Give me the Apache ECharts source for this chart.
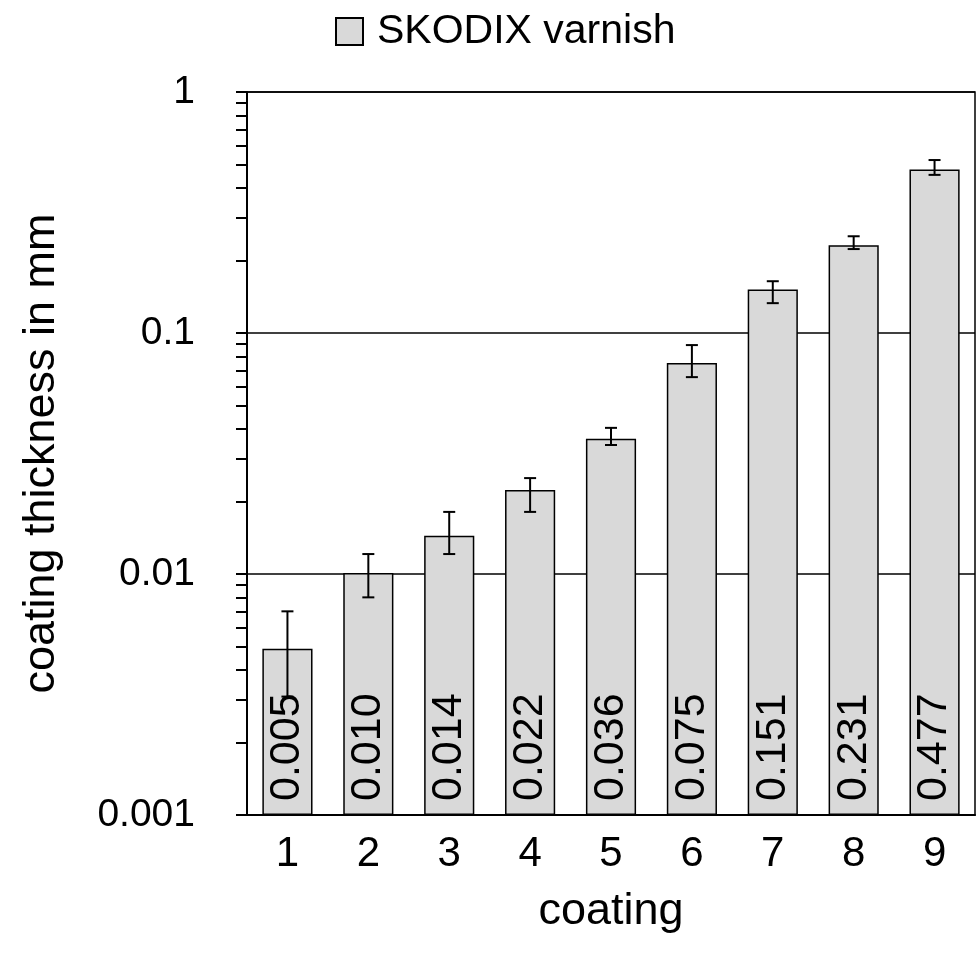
<!DOCTYPE html>
<html><head><meta charset="utf-8">
<script src="https://cdn.jsdelivr.net/npm/echarts@6/dist/echarts.min.js"></script>
<style>html,body{margin:0;padding:0;background:#fff}#c{width:978px;height:977px}</style>
</head><body><div id="c"></div>
<script>
const categories = ['1','2','3','4','5','6','7','8','9'];
const thickness = [0.0049, 0.0101, 0.0144, 0.0223, 0.0364, 0.0751, 0.1514, 0.2314, 0.4774];
const errLow  = [0.0031, 0.0080, 0.0121, 0.0181, 0.0343, 0.0656, 0.133, 0.223, 0.453];
const errHigh = [0.0070, 0.0121, 0.0181, 0.0250, 0.0404, 0.0891, 0.164, 0.252, 0.522];
const majorTicks = [0.001, 0.01, 0.1, 1];
const minorTicks = [0.002,0.003,0.004,0.005,0.006,0.007,0.008,0.009,
                    0.02,0.03,0.04,0.05,0.06,0.07,0.08,0.09,
                    0.2,0.3,0.4,0.5,0.6,0.7,0.8,0.9];

const FN = '"Liberation Sans",Arial,sans-serif';
const chart = echarts.init(document.getElementById('c'), null, {renderer:'canvas'});
chart.setOption({
  animation:false,
  backgroundColor:'#fff',
  grid:{left:247, right:3, top:92, bottom:162, show:true, borderColor:'#000', borderWidth:1.5,
        containLabel:false, outerBoundsMode:'none'},
  legend:{
    left:330, top:6, itemWidth:27, itemHeight:27, itemGap:8,
    icon:'rect',
    textStyle:{fontFamily:FN, fontSize:41, color:'#000', padding:[0,0,0,9]},
    data:['SKODIX varnish']
  },
  xAxis:{
    type:'category', data:categories,
    axisLine:{lineStyle:{color:'#000', width:2}},
    axisTick:{show:false},
    axisLabel:{fontFamily:FN, fontSize:42, color:'#000', margin:18},
    name:'coating', nameLocation:'middle', nameGap:74,
    nameTextStyle:{fontFamily:FN, fontSize:45, color:'#000'}
  },
  yAxis:[{
    type:'log', logBase:10, min:0.001, max:1, startValue:0.001,
    axisLine:{show:true, lineStyle:{color:'#000', width:2}},
    axisTick:{show:true, inside:false, length:11, lineStyle:{color:'#000', width:2}},
    axisLabel:{fontFamily:FN, fontSize:39, color:'#000', margin:52, customValues: majorTicks,
      formatter: v => String(v)},
    splitLine:{show:true, lineStyle:{color:'#000', width:1.5}},
    name:'coating thickness in mm', nameLocation:'middle', nameGap:183,
    nameTextStyle:{fontFamily:FN, fontSize:45, color:'#000'}
  },{
    type:'log', logBase:10, min:0.001, max:1, position:'left',
    axisLine:{show:false},
    axisTick:{show:true, inside:false, length:11, lineStyle:{color:'#000', width:2},
      customValues: minorTicks},
    axisLabel:{show:false},
    splitLine:{show:false}
  }],
  series:[
    {
      name:'SKODIX varnish', type:'bar', data:thickness, barWidth:'62%',
      itemStyle:{color:'#d9d9d9', borderColor:'#000', borderWidth:1.5},
      label:{show:true, position:'insideBottom', rotate:90, align:'left', verticalAlign:'middle',
        distance:14, fontFamily:FN, fontSize:43, color:'#000',
        formatter: p => p.value.toFixed(3)}
    },
    {
      name:'err', type:'custom', z:5,
      data: categories.map((c,i)=>[i, errLow[i], errHigh[i]]),
      renderItem:(params, api)=>{
        const lo = api.coord([api.value(0), api.value(1)]);
        const hi = api.coord([api.value(0), api.value(2)]);
        const hw = 6;
        const st = {stroke:'#000', lineWidth:2};
        return {type:'group', children:[
          {type:'line', shape:{x1:hi[0], y1:hi[1], x2:lo[0], y2:lo[1]}, style:st},
          {type:'line', shape:{x1:hi[0]-hw, y1:hi[1], x2:hi[0]+hw, y2:hi[1]}, style:st},
          {type:'line', shape:{x1:lo[0]-hw, y1:lo[1], x2:lo[0]+hw, y2:lo[1]}, style:st}
        ]};
      }
    }
  ]
});
</script></body></html>
